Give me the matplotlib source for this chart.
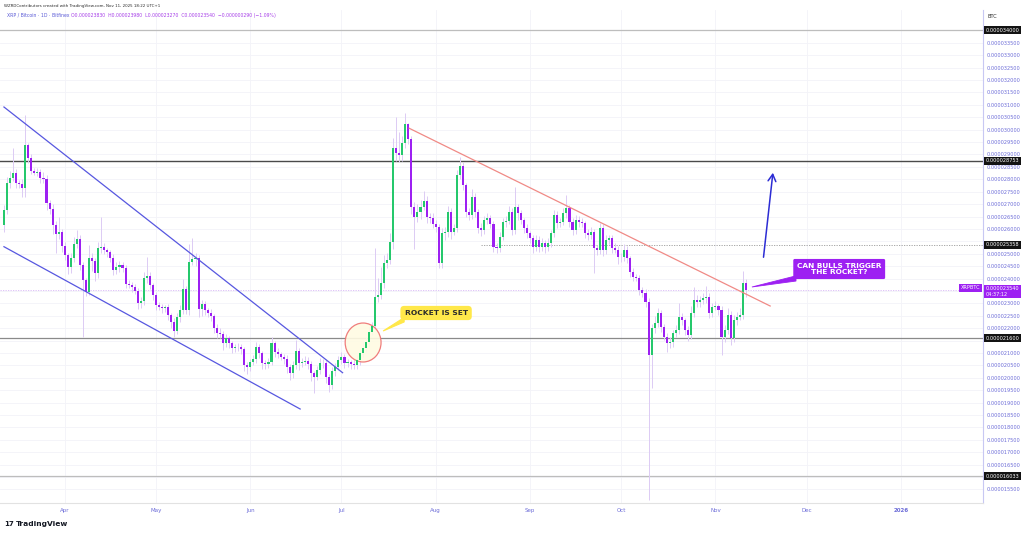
import numpy as np
import pandas as pd
import matplotlib
matplotlib.use("Agg")
import matplotlib.pyplot as plt
import matplotlib.dates as mdates
from matplotlib.patches import Ellipse, Polygon
from matplotlib.transforms import blended_transform_factory

# prices in units of 1e-9 BTC (XRP/BTC, daily, Bitfinex)
start_date = "2025-03-12"
first_open = 26160
closes = [
    26760, 27850, 28050, 28270, 27860, 27810, 27650, 29380, 28860, 28350,
    28270, 28310, 28050, 28010, 27050, 26800, 26160, 25800, 25880, 25310,
    24950, 24480, 24830, 25390, 25590, 24550, 23940, 23470, 24830, 24710,
    24220, 25230, 25270, 25150, 25070, 24830, 24350, 24480, 24550, 24430,
    23780, 23760, 23670, 23510, 23030, 23100, 24030, 24100, 23740, 23340,
    22930, 22870, 22800, 22840, 22530, 22260, 21900, 22460, 22730, 23580,
    22730, 24680, 24770, 24830, 22760, 22980, 22730, 22610, 22490, 22010,
    21820, 21770, 21390, 21600, 21390, 21190, 21230, 21250, 21150, 20520,
    20440, 20650, 20750, 21250, 20990, 20610, 20560, 20650, 21390, 21050,
    20960, 20850, 20750, 20450, 20210, 20520, 21090, 20580, 20650, 20680,
    20560, 20180, 20050, 20320, 20580, 20610, 20050, 19710, 20290, 20450,
    20720, 20850, 20580, 20620, 20560, 20520, 20720, 20990, 21190, 21460,
    21860, 22090, 23270, 23340, 23810, 24610, 24750, 25490, 29250, 29050,
    28980, 29450, 30230, 29610, 26870, 26490, 26690, 26900, 27140, 26490,
    26430, 26200, 26090, 24640, 25820, 25890, 26690, 25890, 26030, 28170,
    28540, 27770, 26690, 26560, 27300, 26690, 26030, 25960, 26360, 26430,
    26200, 25280, 25230, 25690, 26290, 26330, 26690, 25960, 26870, 26630,
    26360, 26030, 25820, 25620, 25280, 25550, 25280, 25420, 25260, 25420,
    25820, 26560, 26240, 26290, 26630, 26830, 26290, 25960, 26360, 26290,
    26230, 25840, 25760, 25890, 25220, 25150, 26030, 25150, 25550, 25620,
    25220, 25170, 24880, 24850, 25150, 24820, 24280, 24070, 24040, 23540,
    23420, 23070, 20920, 22000, 22200, 22600, 22060, 21660, 21390, 21460,
    21790, 21930, 22460, 22330, 21930, 21730, 22600, 23140, 23070, 23140,
    23220, 23260, 22600, 22870, 22890, 22730, 21660, 21930, 22530, 21590,
    22330, 22460, 22530, 23830, 23540,
]
upper_wick = [
    200, 250, 300, 980, 150, 120, 200, 1210, 100, 150,
    120, 150, 100, 250, 150, 100, 200, 150, 600, 100,
    150, 100, 200, 300, 370, 150, 100, 80, 520, 200,
    100, 250, 1200, 150, 100, 100, 150, 200, 150, 100,
    100, 150, 100, 100, 100, 150, 250, 750, 150, 100,
    100, 120, 100, 100, 150, 100, 150, 150, 200, 400,
    100, 710, 850, 200, 100, 150, 100, 100, 150, 100,
    150, 200, 100, 150, 100, 100, 150, 150, 100, 100,
    100, 120, 150, 210, 100, 100, 100, 150, 240, 100,
    150, 100, 100, 150, 100, 150, 430, 100, 150, 200,
    150, 100, 100, 150, 200, 150, 100, 100, 150, 150,
    150, 200, 100, 150, 100, 150, 200, 150, 250, 200,
    200, 150, 1950, 700, 660, 350, 300, 350, 410, 1270,
    870, 300, 430, 40, 150, 200, 300, 250, 400, 200,
    150, 200, 150, 100, 200, 200, 250, 150, 150, 200,
    370, 150, 100, 150, 300, 150, 100, 200, 150, 200,
    150, 100, 150, 200, 150, 200, 250, 150, 800, 150,
    150, 100, 150, 100, 150, 200, 150, 200, 150, 200,
    150, 200, 150, 150, 200, 540, 150, 150, 200, 150,
    150, 100, 150, 200, 100, 150, 210, 150, 200, 150,
    150, 200, 150, 150, 250, 150, 100, 150, 100, 100,
    100, 150, 150, 150, 300, 200, 150, 100, 150, 200,
    150, 200, 550, 150, 100, 150, 300, 530, 200, 150,
    200, 450, 150, 150, 200, 100, 150, 200, 300, 150,
    200, 200, 300, 490, 150,
]
lower_wick = [
    300, 150, 200, 100, 200, 150, 350, 360, 200, 150,
    100, 150, 200, 150, 300, 200, 350, 770, 200, 250,
    200, 300, 250, 150, 150, 200, 2280, 180, 150, 400,
    300, 200, 200, 150, 200, 150, 200, 150, 200, 150,
    150, 150, 200, 150, 250, 200, 150, 200, 150, 200,
    200, 150, 200, 150, 200, 250, 250, 150, 200, 150,
    150, 200, 150, 250, 300, 250, 200, 150, 200, 200,
    200, 150, 250, 150, 200, 200, 150, 150, 200, 250,
    300, 150, 150, 150, 200, 250, 200, 150, 150, 200,
    150, 150, 200, 250, 300, 200, 150, 250, 150, 150,
    200, 300, 660, 150, 150, 200, 250, 270, 150, 200,
    150, 150, 200, 150, 200, 150, 150, 200, 150, 150,
    200, 150, 150, 200, 150, 200, 200, 150, 300, 300,
    300, 250, 200, 200, 250, 1300, 200, 300, 150, 250,
    200, 150, 200, 215, 200, 250, 200, 300, 150, 150,
    150, 200, 200, 200, 150, 200, 200, 250, 150, 150,
    150, 200, 200, 150, 150, 200, 150, 200, 150, 250,
    150, 200, 200, 200, 250, 150, 200, 150, 220, 150,
    150, 150, 200, 150, 150, 200, 200, 200, 150, 200,
    150, 200, 200, 150, 1000, 200, 150, 250, 150, 150,
    200, 150, 300, 200, 150, 200, 200, 150, 150, 200,
    150, 200, 5840, 1350, 200, 150, 200, 150, 340, 200,
    200, 150, 150, 200, 200, 250, 150, 150, 200, 200,
    150, 200, 200, 150, 150, 200, 740, 200, 150, 250,
    150, 200, 150, 150, 270,
]

# drawn lines: (date, price)
channel_upper = [("2025-03-12", 30914), ("2025-07-01 09:00", 20206)]
channel_lower = [("2025-03-12", 25284), ("2025-06-17 10:00", 18743)]
resistance = [("2025-07-23 07:00", 30056), ("2025-11-19", 22894)]
arrow_up = [("2025-11-16 17:00", 24748), ("2025-11-20", 28375)]
levels = {"top": 34000, "res": 28753, "mid": 25358, "sup": 21600, "low": 16033}
last_price = 23540

GREEN = "#25c86c"
PURPLE = "#9d20f2"
AXIS_TXT = "#6c6cd8"

dates = pd.date_range(start_date, periods=len(closes), freq="D")
x = mdates.date2num(dates)
c = np.array(closes, float)
o = np.r_[first_open, c[:-1]]
hi = np.maximum(o, c) + np.array(upper_wick)
lo = np.minimum(o, c) - np.array(lower_wick)
up = c >= o


def dn(s):
    return mdates.date2num(pd.Timestamp(s))


fig = plt.figure(figsize=(10.24, 5.36), dpi=100)
ax = fig.add_axes([0, 1 - 503 / 536, 983 / 1024, 493 / 536])
ax.set_ylim(14955, 34823)
ax.set_xlim(x[0] - 1.3, x[0] + 322)

# grid
for p in range(15500, 34500, 500):
    ax.axhline(p, color="#f3f3f8", lw=0.6, zorder=0)
months = pd.date_range("2025-04-01", "2026-01-01", freq="MS")
for m in months:
    ax.axvline(mdates.date2num(m), color="#f3f3f8", lw=0.6, zorder=0)

# horizontal levels
ax.axhline(levels["top"], color="#bdbdbd", lw=0.9, zorder=1)
ax.axhline(levels["res"], color="#4a4a4a", lw=1.0, zorder=1)
ax.axhline(levels["sup"], color="#8a8a8a", lw=0.9, zorder=1)
ax.axhline(levels["low"], color="#bdbdbd", lw=0.9, zorder=1)
ax.plot([dn("2025-08-16"), x[0] + 322], [levels["mid"]] * 2, color="#9a9a9a",
        lw=0.6, ls=(0, (1.5, 1.5)), zorder=1)
ax.axhline(last_price, color="#d9b8f6", lw=0.6, ls=(0, (1.5, 1.5)), zorder=1)

# candles
ax.vlines(x, lo, hi, color="#dccbf4", lw=0.7, zorder=2)
body_h = np.maximum(np.abs(c - o), 30)
ax.bar(x, body_h, bottom=np.minimum(o, c), width=0.68,
       color=np.where(up, GREEN, PURPLE), lw=0, zorder=3)

# channel and trend line
for seg, col in [(channel_upper, "#5757e0"), (channel_lower, "#5757e0"),
                 (resistance, "#f08a86")]:
    ax.plot([dn(seg[0][0]), dn(seg[1][0])], [seg[0][1], seg[1][1]],
            color=col, lw=0.9, zorder=4)

# arrow
ax.annotate("", xy=(dn(arrow_up[1][0]), arrow_up[1][1]),
            xytext=(dn(arrow_up[0][0]), arrow_up[0][1]),
            arrowprops=dict(arrowstyle="->,head_length=0.5,head_width=0.28",
                            color="#2c2cd4", lw=1.1), zorder=5)

# rocket circle
ax.add_patch(Ellipse((dn("2025-07-08 03:00"), 21423), 11.8, 1570,
                     facecolor="#fffbe3", edgecolor="#ee6f6f", lw=0.9,
                     alpha=0.9, zorder=2.5))

# ROCKET IS SET callout
ax.add_patch(Polygon([(dn("2025-07-14 17:00"), 21887),
                      (dn("2025-07-21 15:00"), 22430),
                      (dn("2025-07-21 15:00"), 22250)],
                     closed=True, facecolor="#ffe84a", edgecolor="#ffe84a",
                     lw=0.8, zorder=5))
ax.text(dn("2025-08-01 03:00"), 22612, "ROCKET IS SET", fontsize=5.4,
        fontweight="bold", color="#2b2b2b", ha="center", va="center",
        zorder=6,
        bbox=dict(boxstyle="round,pad=0.55,rounding_size=0.5",
                  fc="#ffe84a", ec="none"))

# CAN BULLS callout
ax.add_patch(Polygon([(dn("2025-11-13"), 23660),
                      (dn("2025-11-27 12:00"), 24110),
                      (dn("2025-11-27 12:00"), 23900)],
                     closed=True, facecolor=PURPLE, edgecolor=PURPLE,
                     lw=0.6, zorder=5))
ax.text(dn("2025-12-11 17:00"), 24385, "CAN BULLS TRIGGER\nTHE ROCKET?",
        fontsize=5.3, fontweight="bold", color="white", ha="center",
        va="center", linespacing=1.15, zorder=6,
        bbox=dict(boxstyle="round,pad=0.5,rounding_size=0.2",
                  fc=PURPLE, ec="none"))

# axes styling
for s in ["top", "left"]:
    ax.spines[s].set_visible(False)
ax.spines["right"].set_color("#c8c8f3")
ax.spines["right"].set_linewidth(0.8)
ax.spines["bottom"].set_color("#e2e2e2")
ax.spines["bottom"].set_linewidth(0.8)

ax.yaxis.tick_right()
boxes = list(levels.values()) + [last_price]
ticks = [p for p in range(15500, 34500, 500)
         if min(abs(p - b) for b in boxes) > 150]
ax.set_yticks(ticks)
ax.set_yticklabels([f"{p * 1e-9:.9f}" for p in ticks])
ax.tick_params(axis="y", length=0, pad=2.5, labelsize=3.6, labelcolor=AXIS_TXT)

ax.set_xticks(mdates.date2num(months))
ax.set_xticklabels([m.strftime("%b") if m.year == 2025 else "2026" for m in months])
ax.tick_params(axis="x", length=0, pad=3.5, labelsize=4.0, labelcolor=AXIS_TXT)
ax.get_xticklabels()[-1].set_fontweight("bold")

# price-axis label boxes
tr = blended_transform_factory(ax.transAxes, ax.transData)
for v in levels.values():
    ax.text(1.003, v, f"{v * 1e-9:.9f}", transform=tr, fontsize=3.6,
            color="white", ha="left", va="center", clip_on=False, zorder=7,
            bbox=dict(boxstyle="square,pad=0.3", fc="#131313", ec="none"))
ax.text(1.003, last_price - 60, f"{last_price * 1e-9:.9f}\n04:37:12",
        transform=tr, fontsize=3.6, color="white", ha="left", va="center",
        linespacing=1.1, clip_on=False, zorder=7,
        bbox=dict(boxstyle="square,pad=0.3", fc=PURPLE, ec="none"))
ax.text(0.997, last_price + 80, "XRPBTC", transform=tr, fontsize=3.6,
        color="white", ha="right", va="center", clip_on=False, zorder=7,
        bbox=dict(boxstyle="square,pad=0.3", fc=PURPLE, ec="none"))

# header
fig.text(0.004, 0.989, "WZRDContributors created with TradingView.com, Nov 11, 2025 18:22 UTC+1",
         fontsize=2.9, color="#2a2a2a", ha="left", va="center")
fig.text(0.007, 0.972, "XRP / Bitcoin · 1D · Bitfinex", fontsize=3.3,
         color="#5a5ad6", ha="left", va="center")
fig.text(0.069, 0.972,
         "O0.000023830  H0.000023980  L0.000023270  C0.000023540  \u22120.000000290 (\u22121.09%)",
         fontsize=3.3, color="#a63ee8", ha="left", va="center")
fig.text(0.964, 0.969, "BTC", fontsize=3.6, color="#2a2a2a", ha="left", va="center")

# logo
fig.text(0.004, 0.022, "17", fontsize=5, fontweight="black", color="#131722",
         ha="left", va="center")
fig.text(0.0155, 0.022, "TradingView", fontsize=5.4, fontweight="bold",
         color="#131722", ha="left", va="center")

fig.savefig("out.png", dpi=100)
